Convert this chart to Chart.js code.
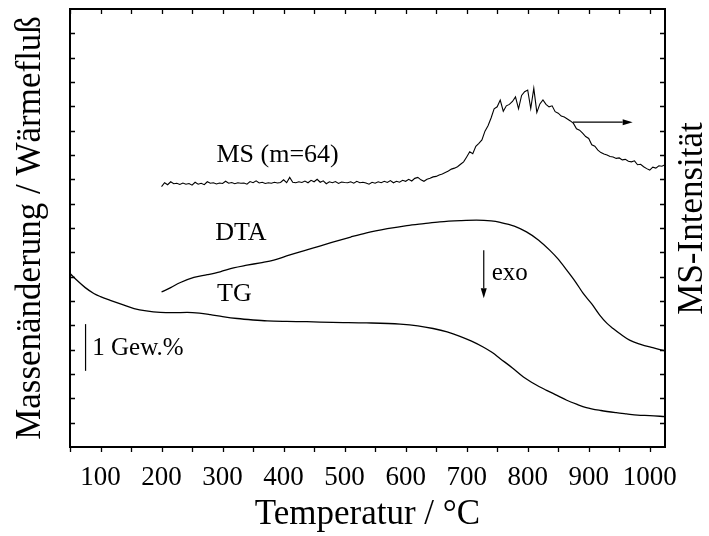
<!DOCTYPE html>
<html>
<head>
<meta charset="utf-8">
<title>TG / DTA / MS</title>
<script src="https://cdn.jsdelivr.net/npm/chart.js@4/dist/chart.umd.min.js"></script>
<style>
	html, body { margin: 0; padding: 0; background: #fff; }
	#wrap { width: 709px; height: 536px; position: relative; }
</style>
</head>
<body>
<div id="wrap"><canvas id="chart"></canvas></div>
<script>
// temperature (°C) and signal values (arbitrary units, 0..18 on the tick grid)
var tgTemp = [50, 60, 75, 89, 100, 116, 135, 155, 175, 198, 220, 242, 262, 280, 300, 324, 350, 373, 405, 438, 480, 536, 591, 620, 645, 668, 689, 708, 727, 742, 755, 775, 793, 812, 831, 848, 864, 880, 896, 920, 945, 962, 980, 1000, 1025];
var tgValues = [7.13, 6.88, 6.55, 6.31, 6.18, 6.03, 5.86, 5.69, 5.59, 5.53, 5.52, 5.53, 5.50, 5.44, 5.36, 5.28, 5.22, 5.18, 5.16, 5.15, 5.12, 5.10, 5.05, 4.98, 4.87, 4.73, 4.55, 4.35, 4.11, 3.88, 3.63, 3.25, 2.88, 2.58, 2.33, 2.12, 1.92, 1.76, 1.62, 1.50, 1.41, 1.36, 1.31, 1.29, 1.25];

var dtaTemp = [200, 215, 230, 253, 275, 296, 318, 340, 362, 384, 405, 427, 455, 482, 510, 536, 570, 602, 630, 656, 690, 716, 740, 755, 778, 798, 818, 836, 850, 864, 878, 891, 905, 918, 930, 940, 953, 967, 985, 1005, 1025];
var dtaValues = [6.37, 6.55, 6.75, 6.97, 7.08, 7.20, 7.36, 7.47, 7.57, 7.68, 7.85, 8.02, 8.22, 8.43, 8.63, 8.80, 8.97, 9.10, 9.18, 9.25, 9.30, 9.32, 9.29, 9.23, 9.08, 8.84, 8.50, 8.09, 7.72, 7.27, 6.80, 6.31, 5.88, 5.42, 5.08, 4.87, 4.62, 4.39, 4.22, 4.08, 3.95];

var msTemp = [
	200, 205, 210, 215, 220, 225, 230, 235, 240, 245, 250, 255, 260, 265, 270, 275, 280, 285, 290, 295,
	300, 305, 310, 315, 320, 325, 330, 335, 340, 345, 350, 355, 360, 365, 370, 375, 380, 385, 390, 395,
	400, 405, 410, 415, 420, 425, 430, 435, 440, 445, 450, 455, 460, 465, 470, 475, 480, 485, 490, 495,
	500, 505, 510, 515, 520, 525, 530, 535, 540, 545, 550, 555, 560, 565, 570, 575, 580, 585, 590, 595,
	600, 605, 610, 615, 620, 625, 630, 635, 640, 645, 650, 655, 660, 665, 670, 675, 680, 685, 690, 695,
	700, 705, 710, 715, 720, 725, 730, 735, 740, 745, 750, 755, 760, 765, 770, 775, 780, 785, 790, 795,
	800, 805, 810, 815, 820, 825, 830, 835, 840, 845, 850, 855, 860, 865, 870, 875, 880, 885, 890, 895,
	900, 905, 910, 915, 920, 925, 930, 935, 940, 945, 950, 955, 960, 965, 970, 975, 980, 985, 990, 995,
	1000, 1005, 1010, 1015, 1020, 1025
];
var msValues = [
	10.70, 10.86, 10.78, 10.90, 10.82, 10.84, 10.79, 10.85, 10.80, 10.83, 10.76, 10.88, 10.80, 10.84, 10.78, 10.90, 10.84, 10.86, 10.81, 10.85,
	10.83, 10.92, 10.84, 10.87, 10.82, 10.86, 10.84, 10.85, 10.80, 10.91, 10.86, 10.94, 10.85, 10.88, 10.83, 10.86, 10.84, 10.88, 10.85, 10.87,
	10.98, 10.86, 11.08, 10.88, 10.86, 10.90, 10.87, 10.93, 10.86, 10.96, 10.90, 11.00, 10.88, 10.94, 10.82, 10.90, 10.86, 10.91, 10.83, 10.89,
	10.87, 10.86, 10.90, 10.84, 10.92, 10.86, 10.88, 10.85, 10.80, 10.88, 10.84, 10.90, 10.86, 10.92, 10.87, 10.95, 10.86, 10.92, 10.88, 10.96,
	10.92, 11.00, 10.93, 11.04, 11.08, 10.98, 10.92, 11.00, 11.04, 11.10, 11.12, 11.18, 11.22, 11.28, 11.34, 11.42, 11.46, 11.52, 11.62, 11.72,
	11.92, 12.13, 12.05, 12.36, 12.48, 12.62, 12.98, 13.20, 13.52, 13.90, 13.98, 14.26, 13.80, 14.02, 14.08, 14.20, 14.39, 13.90, 14.45, 14.60,
	14.67, 13.91, 14.74, 13.75, 14.10, 14.26, 14.08, 13.98, 14.02, 13.78, 13.72, 13.60, 13.56, 13.48, 13.40, 13.30, 13.08, 13.02, 12.90, 12.76,
	12.68, 12.42, 12.36, 12.20, 12.10, 12.04, 12.00, 11.94, 11.92, 11.86, 11.88, 11.80, 11.82, 11.74, 11.72, 11.76, 11.60, 11.62, 11.52, 11.44,
	11.38, 11.50, 11.46, 11.56, 11.54, 11.60
];

// axis ticks (temperature ticks every 50 °C, vertical tick grid 1..17)
var xTickMarks = [50, 100, 150, 200, 250, 300, 350, 400, 450, 500, 550, 600, 650, 700, 750, 800, 850, 900, 950, 1000];
var yTickMarks = [1, 2, 3, 4, 5, 6, 7, 8, 9, 10, 11, 12, 13, 14, 15, 16, 17];

var FONT = "'Liberation Serif', 'Times New Roman', serif";

/**
 * Text labels and arrows placed in data coordinates
 */
var labels = [
	{ text: 'MS (m=64)', x: 290, y: 12.01, size: 26 },
	{ text: 'DTA', x: 288, y: 8.79, size: 26 },
	{ text: 'TG', x: 291, y: 6.27, size: 26 },
	{ text: 'exo', x: 741, y: 7.13, size: 25 },
	{ text: '1 Gew.%', x: 86.5, y: 4.05, size: 25 }
];
var arrows = [
	{ x1: 874, y1: 13.35, x2: 972, y2: 13.35, head: true },
	{ x1: 728, y1: 8.09, x2: 728, y2: 6.11, head: true },
	{ x1: 75.5, y1: 5.05, x2: 75.5, y2: 3.13, head: false }
];

function toPoints(xs, ys) {
	var pts = [];
	for (var i = 0; i < xs.length; i++) {
		pts.push({ x: xs[i], y: ys[i] });
	}
	return pts;
}

/**
 * Frame, inward/outward tick marks, annotations and the right-hand axis title
 */
var decorPlugin = {
	id: 'decor',
	afterDraw: function(chart) {
		var ctx = chart.ctx;
		var area = chart.chartArea;
		var sx = chart.scales.x;
		var sy = chart.scales.y;
		var i, p;

		ctx.save();
		ctx.strokeStyle = '#000';
		ctx.fillStyle = '#000';

		// ticks
		ctx.lineWidth = 1.3;
		ctx.beginPath();
		for (i = 0; i < xTickMarks.length; i++) {
			p = Math.round(sx.getPixelForValue(xTickMarks[i])) + 0.5;
			ctx.moveTo(p, area.bottom);
			ctx.lineTo(p, area.bottom + 5);
			ctx.moveTo(p, area.top);
			ctx.lineTo(p, area.top + 5);
		}
		for (i = 0; i < yTickMarks.length; i++) {
			p = Math.round(sy.getPixelForValue(yTickMarks[i])) + 0.5;
			ctx.moveTo(area.left, p);
			ctx.lineTo(area.left + 5, p);
			ctx.moveTo(area.right, p);
			ctx.lineTo(area.right - 5, p);
		}
		ctx.stroke();

		// frame
		ctx.lineWidth = 2;
		ctx.strokeRect(area.left, area.top, area.right - area.left, area.bottom - area.top);

		// arrows and scale bar
		ctx.lineWidth = 1.2;
		arrows.forEach(function(a) {
			var x1 = sx.getPixelForValue(a.x1), y1 = sy.getPixelForValue(a.y1);
			var x2 = sx.getPixelForValue(a.x2), y2 = sy.getPixelForValue(a.y2);
			var ang = Math.atan2(y2 - y1, x2 - x1);
			var hl = a.head ? 10 : 0;
			ctx.beginPath();
			ctx.moveTo(x1, y1);
			ctx.lineTo(x2 - hl * Math.cos(ang), y2 - hl * Math.sin(ang));
			ctx.stroke();
			if (a.head) {
				ctx.beginPath();
				ctx.moveTo(x2, y2);
				ctx.lineTo(x2 - hl * Math.cos(ang) + 3 * Math.sin(ang), y2 - hl * Math.sin(ang) - 3 * Math.cos(ang));
				ctx.lineTo(x2 - hl * Math.cos(ang) - 3 * Math.sin(ang), y2 - hl * Math.sin(ang) + 3 * Math.cos(ang));
				ctx.closePath();
				ctx.fill();
			}
		});

		// labels
		ctx.textAlign = 'left';
		ctx.textBaseline = 'middle';
		labels.forEach(function(l) {
			ctx.font = l.size + 'px ' + FONT;
			ctx.fillText(l.text, sx.getPixelForValue(l.x), sy.getPixelForValue(l.y));
		});

		// right axis title, reading bottom to top
		ctx.font = '35px ' + FONT;
		ctx.textAlign = 'center';
		ctx.translate(area.right + 28, (area.top + area.bottom) / 2 - 9.5);
		ctx.rotate(-Math.PI / 2);
		ctx.fillText('MS-Intensität', 0, 0);
		ctx.restore();
	}
};

var ctx = document.getElementById('chart').getContext('2d');
var myChart = new Chart(ctx, {
	type: 'line',
	data: {
		datasets: [
			{ label: 'TG', data: toPoints(tgTemp, tgValues), yAxisID: 'y', cubicInterpolationMode: 'monotone' },
			{ label: 'DTA', data: toPoints(dtaTemp, dtaValues), yAxisID: 'y', cubicInterpolationMode: 'monotone' },
			{ label: 'MS (m=64)', data: toPoints(msTemp, msValues), yAxisID: 'y2', tension: 0, borderWidth: 1.1 }
		]
	},
	options: {
		responsive: true,
		maintainAspectRatio: false,
		animation: false,
		events: [],
		layout: { padding: { top: 9, left: 0, right: 0, bottom: 0 } },
		elements: {
			point: { radius: 0 },
			line: { borderColor: '#000', borderWidth: 1.3, fill: false }
		},
		plugins: {
			legend: { display: false },
			tooltip: { enabled: false }
		},
		scales: {
			x: {
				type: 'linear',
				min: 50,
				max: 1025,
				grid: { display: false, drawTicks: false },
				border: { display: false },
				ticks: {
					stepSize: 100,
					includeBounds: false,
					maxRotation: 0,
					padding: 14.4,
					color: '#000',
					font: { family: FONT, size: 27 },
					callback: function(value) { return String(value); }
				},
				title: {
					display: true,
					text: 'Temperatur / °C',
					color: '#000',
					padding: { top: 0, bottom: 0 },
					font: { family: FONT, size: 35 }
				},
				afterFit: function(scale) { scale.height = 89; }
			},
			y: {
				position: 'left',
				min: 0,
				max: 18,
				grid: { display: false, drawTicks: false },
				border: { display: false },
				ticks: { display: false },
				title: {
					display: true,
					text: 'Massenänderung / Wärmefluß',
					color: '#000',
					padding: { top: 9.5, bottom: 0 },
					font: { family: FONT, size: 35 }
				},
				afterFit: function(scale) { scale.width = 70; }
			},
			y2: {
				position: 'right',
				min: 0,
				max: 18,
				grid: { display: false, drawTicks: false },
				border: { display: false },
				ticks: { display: false },
				afterFit: function(scale) { scale.width = 44; }
			}
		}
	},
	plugins: [decorPlugin]
});
</script>
</body>
</html>
